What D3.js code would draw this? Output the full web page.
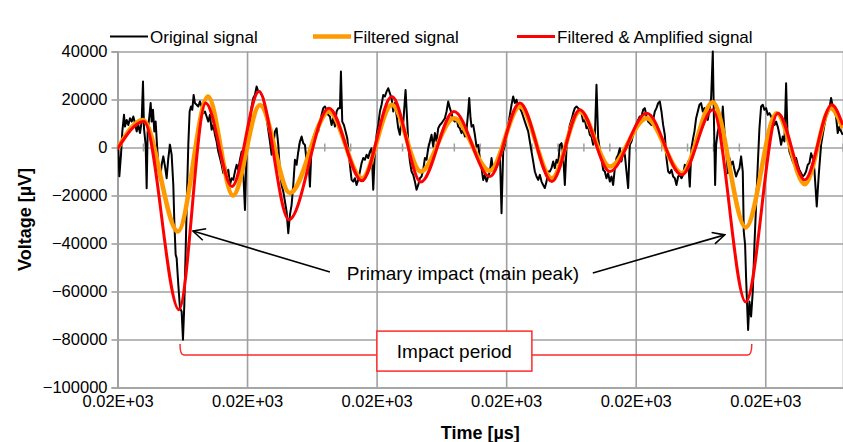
<!DOCTYPE html>
<html>
<head>
<meta charset="utf-8">
<script src="https://cdn.jsdelivr.net/npm/d3@7"></script>
<style>
  body { margin: 0; background: #fff; }
  svg { display: block; font-family: "Liberation Sans", Arial, sans-serif; }
</style>
</head>
<body>
<div id="chart"></div>
<script>
// time base of the recording: t(i) = startTime + i * samplePeriod  [µs]
var startTime = 20.0;
var samplePeriod = 0.01 / 77.76;

var xTicks = [20.00, 20.01, 20.02, 20.03, 20.04, 20.05];
var xTickLabels = ["0.02E+03", "0.02E+03", "0.02E+03", "0.02E+03", "0.02E+03", "0.02E+03"];
var yTicks = [-100000, -80000, -60000, -40000, -20000, 0, 20000, 40000];

var seriesNames = ["Original signal", "Filtered signal", "Filtered & Amplified signal"];

// [sample, µV]
var originalSignal = [
  [0.5,0],[1.1,-12000],[2.1,-3000],[2.9,6700],[3.9,13600],[4.5,8700],[5.5,11500],[6.5,9400],[7.5,12200],[8.5,10800],
  [9.5,12900],[10.5,10100],[11.5,6700],[12.5,9400],[13.5,6000],[14.5,10800],[15.3,27500],[15.9,8000],[16.9,1100],[17.5,-17000],
  [18.1,6700],[19.1,12900],[19.9,18500],[20.5,10800],[21.3,15700],[22.1,6700],[22.9,10800],[23.7,1100],[24.5,-7200],[25.5,-13500],
  [26.5,-7200],[27.5,-3700],[28.5,-7900],[29.5,-12800],[30.5,-4400],[31.5,1100],[32.5,-3000],[33.5,-15600],[34.1,-30800],[34.9,-44700],
  [35.5,-46100],[36.5,-57200],[37.5,-67000],[38.5,-68300],[39.3,-80100],[40.1,-65600],[40.9,-43300],[41.7,-19700],[42.5,1100],[43.3,15000],
  [44.1,17100],[44.9,15700],[45.7,21900],[46.5,18500],[47.5,17800],[48.5,17100],[49.5,19200],[50.5,17100],[51.5,14300],[52.5,15000],
  [53.5,12900],[54.5,10800],[55.5,13600],[56.5,7400],[57.5,9400],[58.5,5300],[59.5,2500],[60.5,-1700],[61.5,-4400],[62.5,-7200],
  [63.5,-10700],[64.5,-7200],[65.5,-12100],[66.5,-9300],[67.5,-15600],[68.5,-12800],[69.5,-13500],[70.5,-10000],[71.5,-7200],[72.5,-9300],
  [73.5,-5100],[74.5,-1700],[75.3,-7200],[76.5,-26000],[77.5,-1700],[78.5,3900],[79.5,10800],[80.5,17100],[81.5,20600],[82.5,21900],
  [83.5,25400],[84.5,23300],[85.5,23300],[87.5,20600],[88.5,16400],[89.5,12200],[90.5,7400],[91.5,2500],[92.5,-3000],[93.5,1100],
  [94.5,6700],[95.5,8000],[96.5,1100],[97.5,-10000],[98.5,-15600],[99.5,-18300],[100.5,-22500],[101.5,-26700],[102.5,-35700],[103.5,-28000],
  [104.5,-23900],[105.5,-15600],[106.5,-5100],[107.5,-7200],[108.5,-1700],[109.5,2500],[110.5,4600],[111.5,1800],[112.5,1100],[113.5,-5800],
  [114.5,-3000],[115.5,-16300],[116.5,1100],[117.5,3900],[118.5,6000],[119.5,8000],[120.5,6700],[121.5,10800],[122.5,13600],[123.5,16400],
  [124.5,17100],[125.5,15700],[126.5,13600],[127.5,12900],[128.5,9400],[129.5,12200],[130.5,8700],[131.5,15000],[132.5,16400],[133.5,16400],
  [134.1,31700],[134.9,10800],[135.9,9400],[136.9,6700],[137.9,3900],[138.7,-1700],[139.5,-7200],[140.5,-13500],[141.5,-14200],[142.5,-12800],
  [143.5,-15600],[144.5,-13500],[145.5,-10000],[146.5,-6500],[147.5,-4400],[148.5,-5100],[149.5,-3000],[150.5,-4400],[151.5,-1700],[152.5,-300],
  [153.5,-17600],[154.5,-1700],[155.5,5300],[156.5,9400],[157.5,15000],[158.5,17800],[159.5,21900],[160.5,21250],[161.5,23300],[162.5,24700],
  [163.5,22600],[164.5,20600],[165.5,15000],[166.5,18500],[167.5,13600],[168.5,8000],[169.5,5300],[170.5,12200],[171.5,10100],[172.9,24000],
  [173.9,10800],[174.7,-300],[175.5,-5800],[176.5,-10000],[177.5,-11400],[178.5,-14200],[179.5,-17600],[180.5,-15600],[181.5,-12800],[182.5,-12100],
  [183.5,-9300],[184.5,-4400],[185.5,-5100],[186.5,-300],[187.5,2500],[188.5,5300],[189.5,400],[190.5,6000],[191.5,2500],[192.5,8000],
  [193.5,9400],[194.5,10100],[196.5,12200],[197.5,15000],[198.5,19200],[199.5,16400],[200.5,14300],[201.5,11500],[202.5,10800],[203.5,12200],
  [204.5,8700],[205.5,8000],[206.5,6000],[207.5,7400],[208.5,4600],[209.5,7400],[210.5,15000],[211.1,20600],[211.9,12200],[212.5,8700],
  [213.5,9400],[214.5,5300],[215.5,400],[216.5,1100],[217.5,-4400],[218.5,-8600],[219.5,-13500],[220.5,-11400],[221.5,-14200],[222.5,-12100],
  [223.5,-10000],[224.5,-4400],[225.5,-9300],[226.5,-7200],[227.5,-5800],[228.5,-4400],[229.5,-1700],[230.5,-27400],[231.5,-1700],[232.5,1100],
  [233.5,5300],[234.5,9400],[235.5,13600],[236.5,17800],[237.5,21250],[238.5,18500],[239.5,19900],[240.5,17100],[241.5,16400],[242.5,15000],
  [243.5,12900],[244.5,10800],[245.5,8700],[246.5,6700],[247.5,2500],[248.5,-1700],[249.5,-5800],[250.5,-10000],[251.5,-12100],[252.5,-13500],
  [253.5,-11400],[254.5,-14200],[255.5,-15600],[256.5,-16900],[257.5,-14200],[258.5,-10000],[259.5,-10000],[260.5,-8600],[261.5,-5800],[262.5,-8600],
  [263.5,-5100],[264.5,-6500],[265.5,1100],[266.5,1800],[267.5,-3000],[268.5,-15600],[269.5,-300],[270.5,5300],[271.5,9400],[272.5,11500],
  [273.5,14300],[274.5,16400],[275.5,17100],[276.5,16400],[277.5,15700],[278.5,14300],[279.5,10800],[280.5,11500],[281.5,8000],[282.5,8700],
  [283.5,5300],[284.5,4600],[285.5,1100],[286.5,3900],[287.5,26100],[288.5,3900],[289.5,-1000],[290.5,-4400],[291.5,-9300],[292.5,-10000],
  [293.5,-12800],[294.5,-10700],[295.5,-14200],[296.5,-12100],[297.5,-15600],[298.5,-8600],[299.5,-4400],[300.5,-3000],[301.5,-300],[302.5,-5800],
  [303.5,-1700],[304.5,-3000],[305.5,-10000],[306.5,-16900],[307.5,1100],[308.5,2500],[309.5,5300],[310.5,8000],[311.5,9400],[312.5,11500],
  [313.5,12900],[314.5,12900],[315.5,15700],[316.5,16400],[317.5,12900],[318.5,10800],[319.5,10100],[320.5,9400],[321.5,11500],[322.5,15000],
  [323.5,16400],[324.5,18500],[325.5,19200],[326.5,15000],[327.5,9400],[328.5,5300],[329.5,-4400],[330.5,-10000],[331.5,-10700],[332.5,-9300],
  [333.5,-12100],[334.5,-12800],[335.5,-15600],[336.5,-12100],[337.5,-11400],[338.5,-12800],[339.5,-11400],[340.5,-7200],[341.5,-8600],[342.5,-5800],
  [343.5,-16300],[344.5,-300],[345.5,3900],[346.3,6700],[347.3,12200],[348.3,15000],[349.3,17800],[350.3,18500],[351.3,15000],[352.3,16400],
  [353.3,13600],[354.3,11500],[355.3,15700],[356.3,20600],[357.3,40000],[357.9,15000],[358.7,-15600],[359.3,1100],[360.3,6700],[361.3,9400],
  [362.3,3900],[363.3,17100],[364.3,6700],[365.3,-300],[366.3,-10700],[367.3,-4400],[368.3,-7200],[369.3,-5800],[370.3,-9300],[371.3,-12100],
  [372.3,-10000],[373.3,-8600],[374.3,-3700],[375.3,-10000],[375.9,-35000],[376.7,-40600],[377.3,-54400],[377.9,-65600],[378.5,-76000],[379.3,-64200],
  [380.3,-70400],[381.3,-60000],[382.3,-40600],[383.3,-23900],[384.3,-7200],[385.3,8000],[386.3,17100],[387.3,17800],[388.3,15700],[389.3,16400],
  [390.3,13600],[391.3,14300],[392.3,12900],[393.3,11500],[394.3,9400],[395.3,10800],[396.3,8700],[397.3,5300],[398.3,1100],[399.3,4600],
  [400.3,2500],[401.3,26800],[402.1,6700],[403.3,-1700],[404.3,-3700],[405.3,-5800],[406.3,-7200],[407.3,-4400],[408.3,-7200],[409.3,-9300],
  [410.3,-10700],[411.3,-12100],[412.3,-11400],[413.3,-10000],[414.3,-7200],[415.3,-6500],[416.3,-2400],[417.3,-4400],[418.3,-9300],[419.7,-24600],
  [420.9,-11400],[422.3,1100],[423.3,5300],[424.3,9400],[425.3,12900],[426.3,14300],[427.3,16400],[428.3,20600],[429.3,17100],[430.3,15000],
  [431.3,12900],[432.3,6000],[433.3,8700],[434.3,6700],[435.3,5300]
];

// turning points of the filtered curves [sample, µV]
var filteredSignal = [
  [0,-500],[15.3,11500],[36.3,-35000],[54.3,21250],[69.3,-20000],[85.5,17700],[103.5,-19000],[126.9,15000],
  [146.7,-12800],[164.7,17800],[182.1,-10000],[201.9,12200],[223.5,-9700],[241.5,17100],[260.7,-12800],[277.5,15000],
  [295.5,-7900],[317.7,12200],[338.7,-10700],[357.3,18900],[377.1,-33300],[395.7,14300],[412.5,-15300],[428.1,16400],[435.3,8000]
];
var amplifiedSignal = [
  [0,-500],[15.9,10800],[36.9,-67600],[52.9,18500],[68.7,-16250],[84.9,23300],[102.9,-30100],[126.9,16400],
  [146.7,-13900],[164.7,21250],[182.1,-14400],[201.9,15000],[223.5,-12100],[241.5,18500],[260.7,-14200],[277.5,15700],
  [295.5,-10000],[317.7,14300],[338.7,-11400],[357.3,15700],[377.1,-64400],[396.3,14300],[412.5,-13500],[428.7,17800],[435.3,9400]
];

// annotations [sample, µV]
var peakLabel = { text: "Primary impact (main peak)", at: [207.3, -52300] };
var peakArrows = [
  { from: [127.5, -51900], to: [45.3, -34800] },
  { from: [285.3, -52300], to: [364.5, -36400] }
];
var impactPeriod = { text: "Impact period", from: 37.5, to: 380.7, level: -86500, hook: -81900, labelAt: 202.2 };

var W = 843, H = 442;
var margin = { top: 51.5, right: 0, bottom: 54.5, left: 117.5 };
var width = W - margin.left - margin.right;
var height = H - margin.top - margin.bottom;

var svg = d3.select("#chart").append("svg")
    .attr("width", W)
    .attr("height", H);

var x = d3.scaleLinear().domain([startTime, startTime + 0.056]).range([0, width]);
var y = d3.scaleLinear().domain([-100000, 40000]).range([height, 0]);
var tx = function (s) { return x(startTime + s * samplePeriod); };

var g = svg.append("g").attr("transform", "translate(" + margin.left + "," + margin.top + ")");

// gridlines
g.append("g")
    .call(d3.axisLeft(y).tickValues(yTicks).tickSize(-width).tickFormat(""))
    .call(function (a) { a.select(".domain").remove(); })
    .selectAll("line").attr("stroke", "#a0a0a0").attr("stroke-width", 1.6);
g.append("g")
    .attr("transform", "translate(0," + height + ")")
    .call(d3.axisBottom(x).tickValues(xTicks).tickSize(-height).tickFormat(""))
    .call(function (a) { a.select(".domain").attr("stroke", "#a0a0a0").attr("stroke-width", 1.6); })
    .selectAll("line").attr("stroke", "#a0a0a0").attr("stroke-width", 1.6);

// y axis with outside ticks and labels
var yAxis = g.append("g")
    .call(d3.axisLeft(y).tickValues(yTicks).tickSize(6).tickPadding(4).tickFormat(d3.format("d")));
yAxis.select(".domain").attr("stroke", "#a0a0a0").attr("stroke-width", 1.6);
yAxis.selectAll("line").attr("stroke", "#a0a0a0").attr("stroke-width", 1.6);
yAxis.selectAll("text")
    .attr("font-family", "Liberation Sans, Arial, sans-serif")
    .attr("font-size", 16.5)
    .attr("fill", "#000");

// x labels
var xAxis = g.append("g")
    .attr("transform", "translate(0," + height + ")")
    .call(d3.axisBottom(x).tickValues(xTicks).tickSize(0).tickPadding(8)
        .tickFormat(function (d, i) { return xTickLabels[i]; }));
xAxis.select(".domain").remove();
xAxis.selectAll("text")
    .attr("font-family", "Liberation Sans, Arial, sans-serif")
    .attr("font-size", 16.5)
    .attr("fill", "#000");

// minor ticks on the zero line
g.append("g").selectAll("line")
    .data(d3.range(startTime, startTime + 0.056, 0.002))
    .join("line")
    .attr("x1", function (d) { return x(d); })
    .attr("x2", function (d) { return x(d); })
    .attr("y1", y(0) - 4)
    .attr("y2", y(0) + 4)
    .attr("stroke", "#a0a0a0")
    .attr("stroke-width", 1.5);

// axis titles
svg.append("text")
    .attr("x", margin.left + width / 2)
    .attr("y", 439)
    .attr("text-anchor", "middle")
    .attr("font-weight", "bold")
    .attr("font-size", 18)
    .text("Time [µs]");
svg.append("text")
    .attr("transform", "translate(31," + (margin.top + height / 2) + ") rotate(-90)")
    .attr("text-anchor", "middle")
    .attr("font-weight", "bold")
    .attr("font-size", 18)
    .text("Voltage [µV]");

// signals
svg.append("defs").append("clipPath").attr("id", "plot-clip")
  .append("rect").attr("x", 0).attr("y", -2).attr("width", width).attr("height", height + 4);

var plot = g.append("g").attr("clip-path", "url(#plot-clip)");

var rawLine = d3.line()
    .x(function (d) { return tx(d[0]); })
    .y(function (d) { return y(d[1]); });
var smoothLine = d3.line()
    .curve(d3.curveMonotoneX)
    .x(function (d) { return tx(d[0]); })
    .y(function (d) { return y(d[1]); });

plot.append("path")
    .attr("d", rawLine(originalSignal))
    .attr("fill", "none")
    .attr("stroke", "#000")
    .attr("stroke-width", 2)
    .attr("stroke-linejoin", "round");
plot.append("path")
    .attr("d", smoothLine(filteredSignal))
    .attr("fill", "none")
    .attr("stroke", "#ff9900")
    .attr("stroke-width", 4.5);
plot.append("path")
    .attr("d", smoothLine(amplifiedSignal))
    .attr("fill", "none")
    .attr("stroke", "#ff0000")
    .attr("stroke-width", 3);

// arrows
svg.select("defs").append("marker")
    .attr("id", "open-arrow")
    .attr("markerUnits", "userSpaceOnUse")
    .attr("viewBox", "0 0 14 14")
    .attr("markerWidth", 14)
    .attr("markerHeight", 14)
    .attr("refX", 13)
    .attr("refY", 7)
    .attr("orient", "auto")
  .append("path")
    .attr("d", "M1,1 L13,7 L1,13")
    .attr("fill", "none")
    .attr("stroke", "#000")
    .attr("stroke-width", 1.6);

g.selectAll(".peak-arrow")
    .data(peakArrows)
    .join("line")
    .attr("class", "peak-arrow")
    .attr("x1", function (d) { return tx(d.from[0]); })
    .attr("y1", function (d) { return y(d.from[1]); })
    .attr("x2", function (d) { return tx(d.to[0]); })
    .attr("y2", function (d) { return y(d.to[1]); })
    .attr("stroke", "#000")
    .attr("stroke-width", 1.6)
    .attr("marker-end", "url(#open-arrow)");

g.append("text")
    .attr("x", tx(peakLabel.at[0]))
    .attr("y", y(peakLabel.at[1]) + 7)
    .attr("text-anchor", "middle")
    .attr("font-size", 19)
    .text(peakLabel.text);

// impact period bracket
var bx0 = tx(impactPeriod.from), bx1 = tx(impactPeriod.to);
var by = y(impactPeriod.level), byh = y(impactPeriod.hook);
var br = d3.path();
br.moveTo(bx0, byh);
br.quadraticCurveTo(bx0, by, bx0 + 4, by);
br.lineTo(bx1 - 4, by);
br.quadraticCurveTo(bx1, by, bx1, byh);
g.append("path")
    .attr("d", br.toString())
    .attr("fill", "none")
    .attr("stroke", "#ff2a2a")
    .attr("stroke-width", 1.5);

var bcx = tx(impactPeriod.labelAt);
g.append("rect")
    .attr("x", bcx - 77.5)
    .attr("y", by - 24)
    .attr("width", 155)
    .attr("height", 40)
    .attr("fill", "#fff")
    .attr("stroke", "#ff2a2a")
    .attr("stroke-width", 1.5);
g.append("text")
    .attr("x", bcx)
    .attr("y", by + 3)
    .attr("text-anchor", "middle")
    .attr("font-size", 19)
    .text(impactPeriod.text);

// legend
var legendItems = [
  { name: seriesNames[0], color: "#000", w: 2, x: 110 },
  { name: seriesNames[1], color: "#ff9900", w: 4.5, x: 313 },
  { name: seriesNames[2], color: "#ff0000", w: 3, x: 517 }
];
var lg = svg.append("g").selectAll("g")
    .data(legendItems)
    .join("g")
    .attr("transform", function (d) { return "translate(" + d.x + ",36.5)"; });
lg.append("line")
    .attr("x1", 0).attr("x2", 38)
    .attr("stroke", function (d) { return d.color; })
    .attr("stroke-width", function (d) { return d.w; });
lg.append("text")
    .attr("x", 40)
    .attr("y", 6)
    .attr("font-size", 17)
    .text(function (d) { return d.name; });
</script>
</body>
</html>
